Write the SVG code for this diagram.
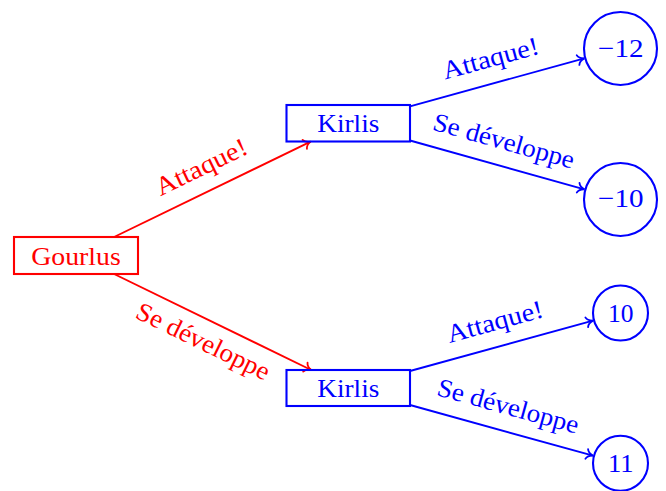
<svg xmlns="http://www.w3.org/2000/svg" width="666" height="491" viewBox="0 0 666 491">
<style>
  text { font-family: "Liberation Serif", "Times New Roman", serif; font-size: 26px; }
  .red { fill: #ff0000; }
  .blue { fill: #0000ff; }
  .box-red { fill: none; stroke: #ff0000; stroke-width: 2.1; }
  .box-blue { fill: none; stroke: #0000ff; stroke-width: 2.1; }
  .circ { fill: none; stroke: #0000ff; stroke-width: 2.1; }
  .edge-red { stroke: #ff0000; stroke-width: 1.9; fill: none; marker-end: url(#arrRed); }
  .edge-blue { stroke: #0000ff; stroke-width: 1.9; fill: none; marker-end: url(#arrBlue); }
  .c { text-anchor: middle; }
</style>
<defs>
  <marker id="arrRed" markerUnits="userSpaceOnUse" viewBox="-8 -6 10 12" refX="0" refY="0" markerWidth="10" markerHeight="12" orient="auto" overflow="visible">
    <path d="M-6.5,-5 C-5.5,-2.2 -2.2,-0.5 0,0 C-2.2,0.5 -5.5,2.2 -6.5,5" fill="none" stroke="#ff0000" stroke-width="1.8" stroke-linecap="round"/>
  </marker>
  <marker id="arrBlue" markerUnits="userSpaceOnUse" viewBox="-8 -6 10 12" refX="0" refY="0" markerWidth="10" markerHeight="12" orient="auto" overflow="visible">
    <path d="M-6.5,-5 C-5.5,-2.2 -2.2,-0.5 0,0 C-2.2,0.5 -5.5,2.2 -6.5,5" fill="none" stroke="#0000ff" stroke-width="1.8" stroke-linecap="round"/>
  </marker>
</defs>

<g id="connectors">
  <line class="edge-red" x1="114.1" y1="237" x2="310.6" y2="141.6"/>
  <line class="edge-red" x1="114.1" y1="274" x2="311.2" y2="370"/>
  <line class="edge-blue" x1="410" y1="106.3" x2="584.3" y2="58.4"/>
  <line class="edge-blue" x1="410" y1="140.5" x2="584.4" y2="189.4"/>
  <line class="edge-blue" x1="410" y1="371" x2="593" y2="320.6"/>
  <line class="edge-blue" x1="410" y1="405" x2="593" y2="455.7"/>
</g>

<g id="edge-labels">
  <text class="red c" x="212.3" y="189.4" dy="-16.5" transform="rotate(-25.9 212.3 189.4)" textLength="99" lengthAdjust="spacingAndGlyphs">Attaque!</text>
  <text class="red c" x="212.6" y="322" dy="30" transform="rotate(25.95 212.6 322)" textLength="145.5" lengthAdjust="spacingAndGlyphs">Se développe</text>
  <text class="blue c" x="497.2" y="82.4" dy="-16.5" transform="rotate(-15.35 497.2 82.4)" textLength="99" lengthAdjust="spacingAndGlyphs">Attaque!</text>
  <text class="blue c" x="497.2" y="165" dy="-16.5" transform="rotate(15.65 497.2 165)" textLength="145.5" lengthAdjust="spacingAndGlyphs">Se développe</text>
  <text class="blue c" x="501.5" y="345.8" dy="-16.5" transform="rotate(-15.4 501.5 345.8)" textLength="99" lengthAdjust="spacingAndGlyphs">Attaque!</text>
  <text class="blue c" x="501.5" y="430.3" dy="-16.5" transform="rotate(15.46 501.5 430.3)" textLength="145.5" lengthAdjust="spacingAndGlyphs">Se développe</text>
</g>

<g id="node-gourlus">
  <rect class="box-red" x="14" y="237" width="124" height="37"/>
  <text class="red c" x="76" y="264.8" textLength="89.5" lengthAdjust="spacingAndGlyphs">Gourlus</text>
</g>
<g id="node-kirlis-1">
  <rect class="box-blue" x="286.5" y="105" width="123.5" height="36.5"/>
  <text class="blue c" x="348.3" y="132.4" textLength="62" lengthAdjust="spacingAndGlyphs">Kirlis</text>
</g>
<g id="node-kirlis-2">
  <rect class="box-blue" x="286.5" y="370" width="123.5" height="36"/>
  <text class="blue c" x="348.3" y="396.8" textLength="62" lengthAdjust="spacingAndGlyphs">Kirlis</text>
</g>
<g id="node-m12">
  <circle class="circ" cx="620.5" cy="48.5" r="36.5"/>
  <text class="blue c" x="620.8" y="56.7" textLength="45.5" lengthAdjust="spacingAndGlyphs">−12</text>
</g>
<g id="node-m10">
  <circle class="circ" cx="620.5" cy="199.5" r="36.5"/>
  <text class="blue c" x="620.8" y="206.7" textLength="45.5" lengthAdjust="spacingAndGlyphs">−10</text>
</g>
<g id="node-10">
  <circle class="circ" cx="620.5" cy="313" r="27.5"/>
  <text class="blue c" x="620.8" y="321.7" textLength="25.5" lengthAdjust="spacingAndGlyphs">10</text>
</g>
<g id="node-11">
  <circle class="circ" cx="620.5" cy="463.3" r="27.5"/>
  <text class="blue c" x="620.8" y="471.8" textLength="25.5" lengthAdjust="spacingAndGlyphs">11</text>
</g>
</svg>
